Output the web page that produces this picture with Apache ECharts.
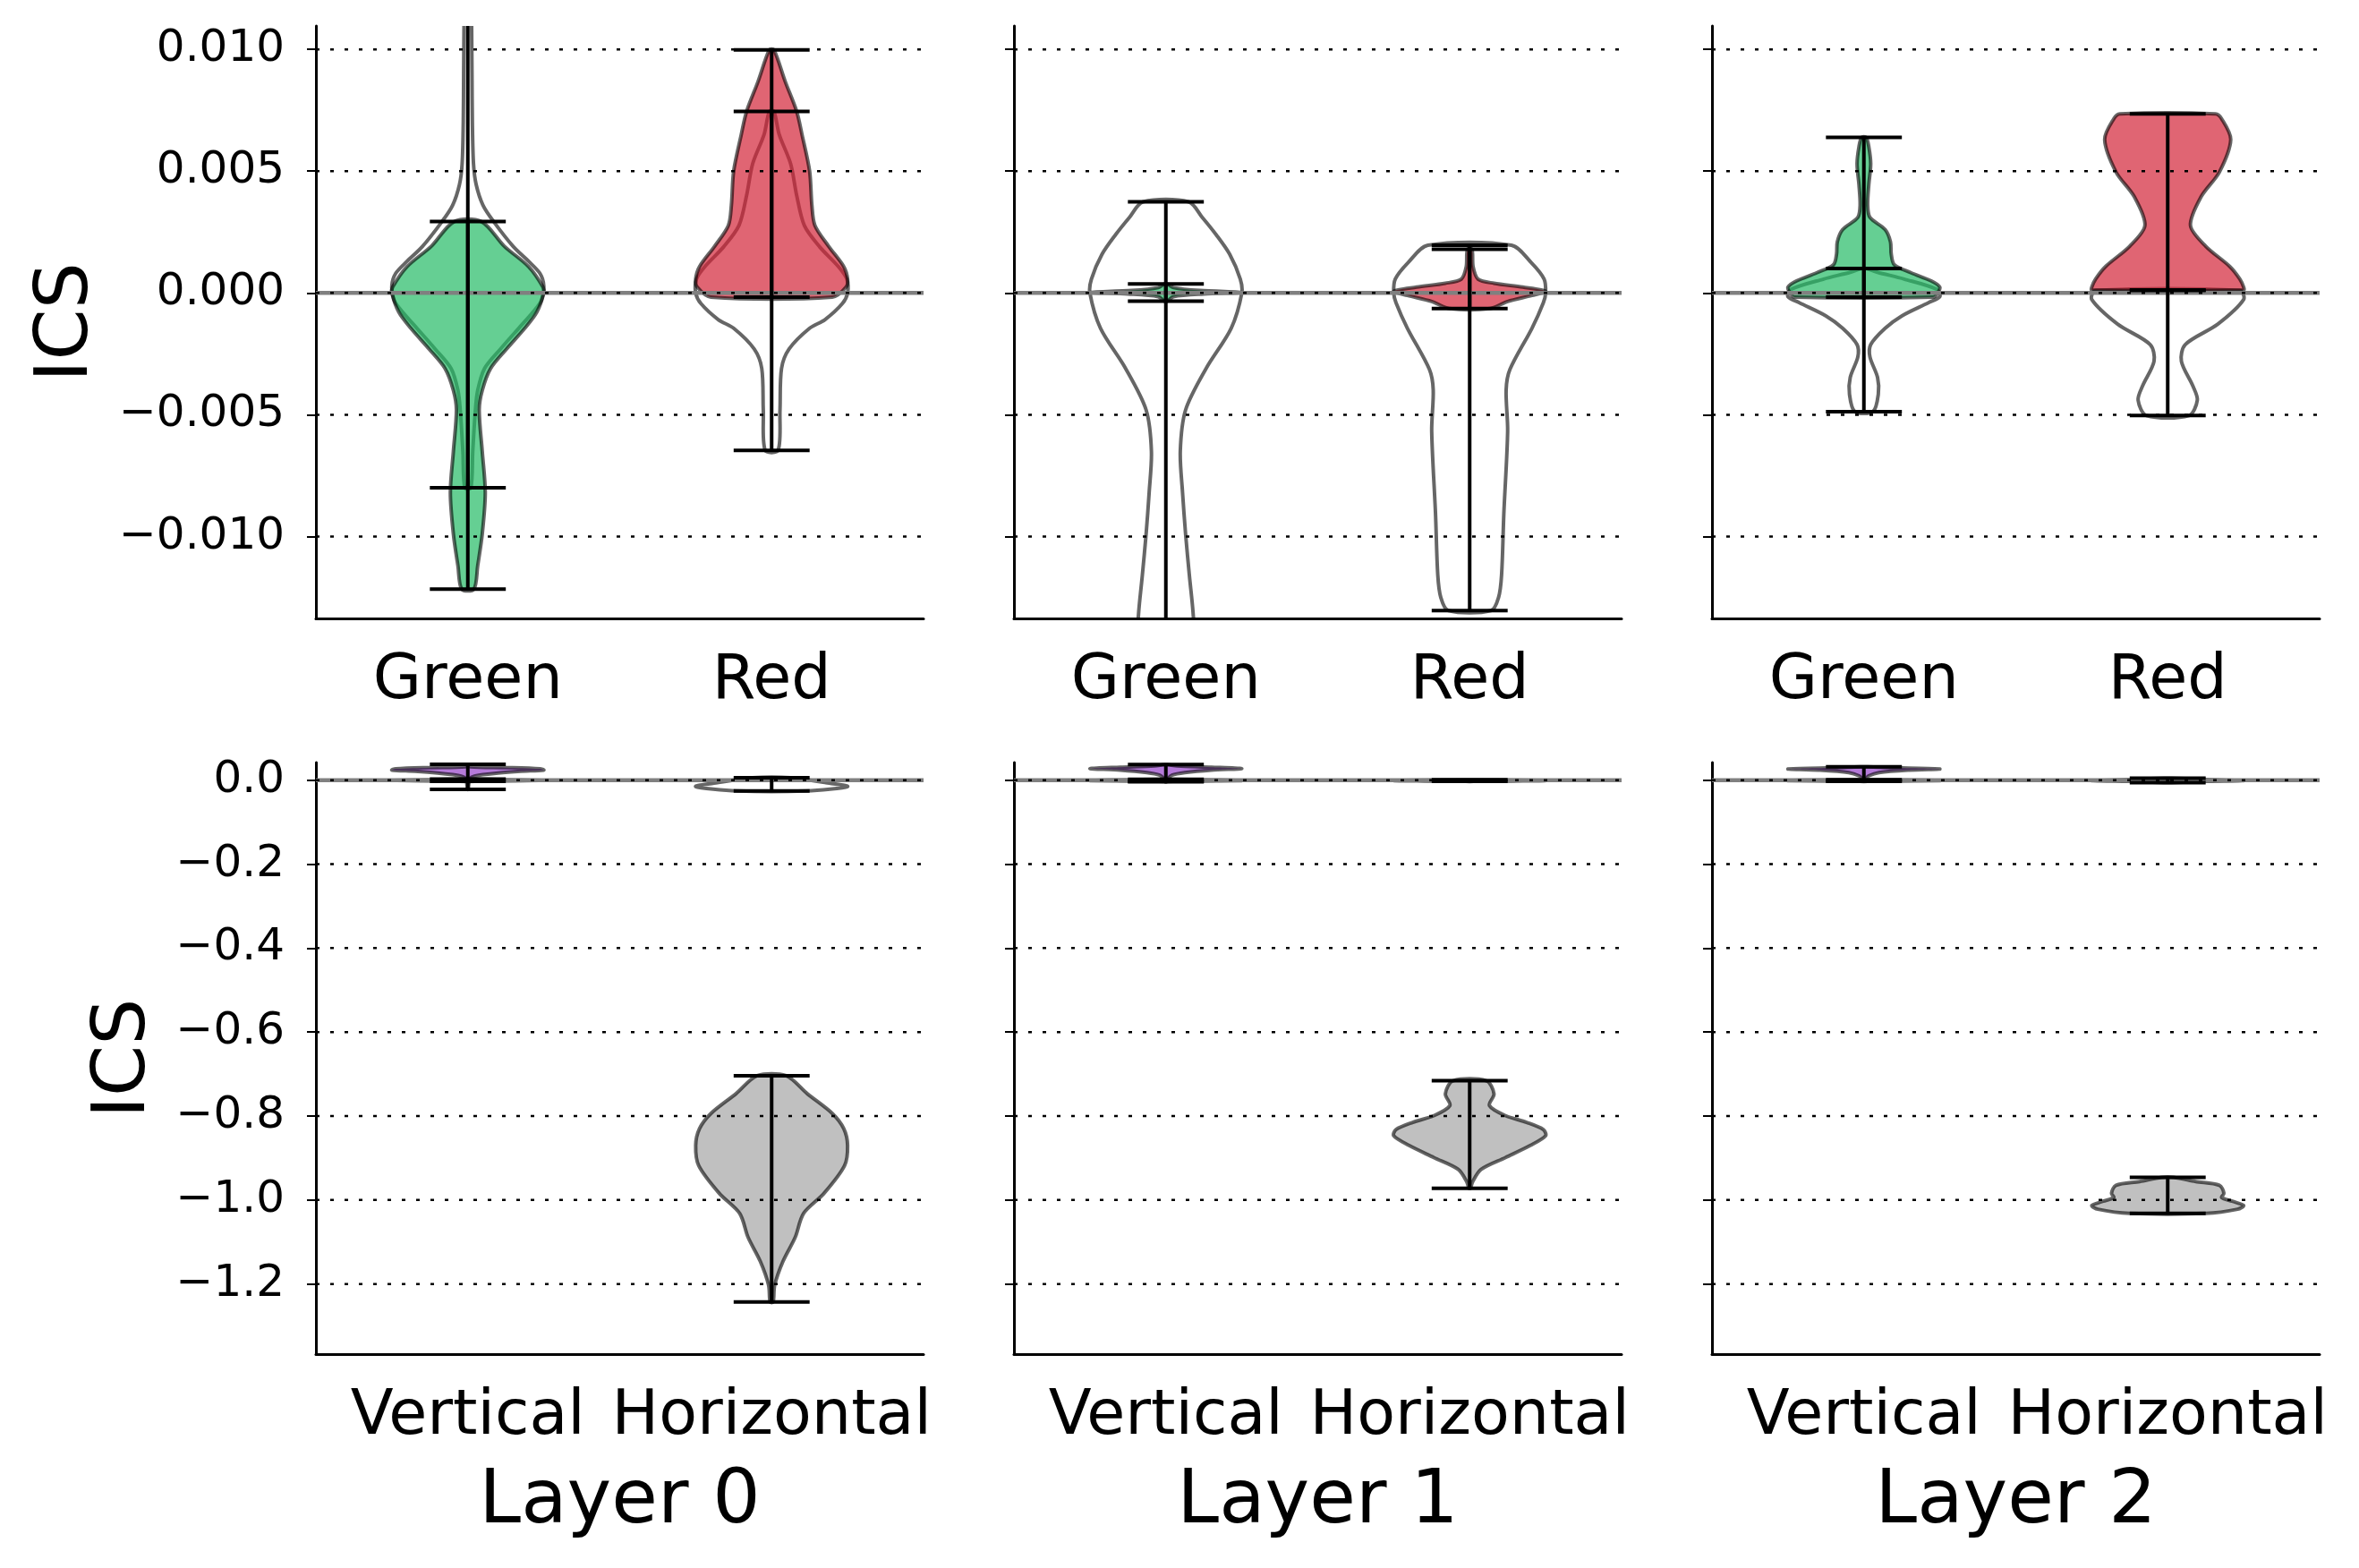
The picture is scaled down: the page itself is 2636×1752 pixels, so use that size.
<!DOCTYPE html>
<html>
<head>
<meta charset="utf-8">
<script src="https://cdn.jsdelivr.net/npm/echarts@6/dist/echarts.min.js"></script>
<style>
  html, body { margin: 0; padding: 0; background: #fff; }
  #chart { width: 2636px; height: 1752px; }
</style>
</head>
<body>
<div id="chart"></div>
<script>
const layerNames = ['Layer 0', 'Layer 1', 'Layer 2']
const colorCats = ['Green', 'Red']
const orientCats = ['Vertical', 'Horizontal']
const colorTicks = [-0.010, -0.005, 0.000, 0.005, 0.010]
const orientTicks = [-1.2, -1.0, -0.8, -0.6, -0.4, -0.2, 0.0]
const colorRange = [-0.01336, 0.01096]
const orientRange = [-1.367, 0.042]

// violin shapes: [ICS value, half width relative to the widest point]
// "Fill" = coloured violin, "Line" = unfilled violin drawn behind it
const greenFill0 = [[-0.01216, 0.08], [-0.0112, 0.13], [-0.0099, 0.19], [-0.0082, 0.23], [-0.0065, 0.19], [-0.0048, 0.15], [-0.0040, 0.19], [-0.0031, 0.30], [-0.0023, 0.51], [-0.00145, 0.75], [-0.00078, 0.91], [0.0, 1.0], [0.00024, 0.99], [0.00108, 0.80], [0.00192, 0.48], [0.00293, 0.18]]
const greenLine0 = [[-0.0080, 0.04], [-0.0065, 0.065], [-0.0048, 0.10], [-0.0040, 0.13], [-0.0031, 0.22], [-0.0023, 0.43], [-0.00145, 0.67], [-0.00078, 0.86], [-0.0003, 0.97], [0.0003, 1.0], [0.0008, 0.95], [0.0013, 0.80], [0.0019, 0.60], [0.00293, 0.34], [0.0036, 0.20], [0.00445, 0.11], [0.0053, 0.075], [0.0070, 0.06], [0.0090, 0.055], [0.0110, 0.05], [0.0125, 0.045]]
const redFill0 = [[-0.00017, 0.80], [0.00024, 0.98], [0.00057, 1.0], [0.00108, 0.95], [0.00192, 0.75], [0.00277, 0.57], [0.0036, 0.53], [0.0050, 0.50], [0.0065, 0.40], [0.00745, 0.33], [0.00867, 0.18], [0.00998, 0.03]]
const redLine0 = [[-0.00646, 0.085], [-0.0048, 0.11], [-0.0031, 0.13], [-0.0023, 0.23], [-0.00145, 0.5], [-0.0011, 0.7], [-0.00044, 0.93], [0.0, 1.0], [0.00057, 0.99], [0.00108, 0.88], [0.0019, 0.63], [0.00277, 0.43], [0.0040, 0.33], [0.0053, 0.25], [0.0065, 0.10], [0.00745, 0.03]]

const greenFill1 = [[-0.00034, 0.02], [-0.00015, 0.1], [-0.00004, 0.5], [0.00002, 1.0], [0.0001, 0.45], [0.00022, 0.1], [0.00037, 0.02]]
const greenLine1 = [[-0.016, 0.40], [-0.0132, 0.36], [-0.0116, 0.31], [-0.0099, 0.26], [-0.0082, 0.22], [-0.0065, 0.19], [-0.0048, 0.26], [-0.0031, 0.53], [-0.00145, 0.86], [0.0, 1.0], [0.00057, 0.98], [0.00159, 0.84], [0.0024, 0.66], [0.0031, 0.48], [0.00374, 0.30]]
const redFill1 = [[-0.00064, 0.27], [-0.00035, 0.5], [-0.0001, 0.82], [0.00007, 1.0], [0.00024, 0.70], [0.0004, 0.32], [0.00057, 0.11], [0.00108, 0.045], [0.00179, 0.03]]
const redLine1 = [[-0.01304, 0.28], [-0.0125, 0.38], [-0.01157, 0.42], [-0.00904, 0.45], [-0.00567, 0.50], [-0.00398, 0.48], [-0.00314, 0.53], [-0.00145, 0.82], [-0.0004, 0.97], [0.0, 1.0], [0.00057, 0.98], [0.00125, 0.81], [0.00196, 0.55]]

const greenFill2 = [[-0.00017, 0.91], [0.0, 0.97], [0.00024, 1.0], [0.00049, 0.89], [0.00083, 0.62], [0.00116, 0.40], [0.0016, 0.36], [0.0021, 0.35], [0.0026, 0.28], [0.0031, 0.08], [0.0036, 0.05], [0.00445, 0.065], [0.0053, 0.09], [0.006, 0.065], [0.00639, 0.03]]
const greenLine2 = [[-0.00487, 0.12], [-0.00415, 0.19], [-0.00347, 0.18], [-0.00263, 0.08], [-0.00212, 0.09], [-0.00145, 0.28], [-0.00094, 0.5], [-0.0004, 0.85], [-0.00015, 1.0], [0.00015, 0.96], [0.00057, 0.53], [0.00085, 0.18], [0.001, 0.03]]
const redFill2 = [[0.00012, 1.0], [0.00024, 1.0], [0.00057, 0.95], [0.00108, 0.82], [0.00192, 0.5], [0.00277, 0.30], [0.00395, 0.44], [0.00496, 0.68], [0.0063, 0.83], [0.00715, 0.71], [0.00735, 0.63]]
const redLine2 = [[-0.00503, 0.28], [-0.0044, 0.39], [-0.00381, 0.33], [-0.0028, 0.18], [-0.00212, 0.23], [-0.00128, 0.66], [-0.00027, 1.0], [0.0001, 0.95]]

const vertFill0 = [[-0.022, 0.005], [-0.005, 0.015], [0.004, 0.03], [0.009, 0.08], [0.013, 0.2], [0.017, 0.4], [0.021, 0.7], [0.024, 1.0], [0.027, 0.95], [0.030, 0.5], [0.032, 0.03], [0.0377, 0.01]]
const vertLine0 = [[-0.003, 0.1], [-0.0015, 0.6], [-0.0005, 1.0], [0.001, 0.5], [0.0025, 0.05]]
const horizFill0 = [[-1.243, 0.02], [-1.203, 0.04], [-1.146, 0.15], [-1.089, 0.31], [-1.032, 0.42], [-0.984, 0.69], [-0.918, 0.96], [-0.870, 1.0], [-0.830, 0.95], [-0.794, 0.80], [-0.747, 0.47], [-0.704, 0.19]]
const horizLine0 = [[-0.0257, 0.45], [-0.0152, 1.0], [-0.0057, 0.7], [0.0057, 0.25]]

const vertFill1 = [[-0.0038, 0.01], [0.004, 0.03], [0.012, 0.08], [0.018, 0.25], [0.024, 0.6], [0.0276, 1.0], [0.031, 0.6], [0.034, 0.15], [0.037, 0.02]]
const vertLine1 = [[-0.003, 0.1], [-0.001, 1.0], [0.0005, 0.6], [0.002, 0.05]]
const horizFill1 = [[-0.972, 0.01], [-0.956, 0.04], [-0.927, 0.15], [-0.899, 0.47], [-0.870, 0.80], [-0.847, 1.0], [-0.832, 0.97], [-0.815, 0.75], [-0.799, 0.47], [-0.775, 0.26], [-0.747, 0.32], [-0.716, 0.22]]
const horizLine1 = [[-0.003, 0.05], [-0.002, 0.6], [-0.001, 1.0], [0.0, 0.7], [0.001, 0.05]]

const vertFill2 = [[-0.001, 0.02], [0.004, 0.03], [0.01, 0.06], [0.018, 0.2], [0.024, 0.6], [0.0266, 1.0], [0.029, 0.5], [0.032, 0.05]]
const vertLine2 = [[-0.003, 0.05], [-0.001, 1.0], [0.0, 0.8], [0.001, 0.05]]
const horizFill2 = [[-1.032, 0.50], [-1.022, 0.92], [-1.013, 1.0], [-1.003, 0.85], [-0.994, 0.71], [-0.984, 0.74], [-0.965, 0.68], [-0.956, 0.37], [-0.946, 0.08]]
const horizLine2 = [[-0.0057, 0.05], [-0.003, 0.5], [-0.001, 1.0], [0.002, 0.4], [0.0048, 0.05]]

const FONT = 'DejaVu Sans'
const green = 'rgba(36,186,101,0.7)'
const red = 'rgba(211,35,55,0.7)'
const purple = 'rgba(149,65,201,0.7)'
const grey = 'rgba(165,165,165,0.7)'
const edge = 'rgba(0,0,0,0.6)'

const gridLeft = [353, 1133, 1913]
const gridTop = [29, 852]
const gridW = 679
const gridH = [662, 661]

const panels = [
  { cats: colorCats, ticks: colorTicks, range: colorRange, fills: [greenFill0, redFill0], lines: [greenLine0, redLine0], colors: [green, red], digits: 3 },
  { cats: colorCats, ticks: colorTicks, range: colorRange, fills: [greenFill1, redFill1], lines: [greenLine1, redLine1], colors: [green, red], digits: 3 },
  { cats: colorCats, ticks: colorTicks, range: colorRange, fills: [greenFill2, redFill2], lines: [greenLine2, redLine2], colors: [green, red], digits: 3 },
  { cats: orientCats, ticks: orientTicks, range: orientRange, fills: [vertFill0, horizFill0], lines: [vertLine0, horizLine0], colors: [purple, grey], digits: 1 },
  { cats: orientCats, ticks: orientTicks, range: orientRange, fills: [vertFill1, horizFill1], lines: [vertLine1, horizLine1], colors: [purple, grey], digits: 1 },
  { cats: orientCats, ticks: orientTicks, range: orientRange, fills: [vertFill2, horizFill2], lines: [vertLine2, horizLine2], colors: [purple, grey], digits: 1 }
]

const fmt = (digits) => (v) => v.toFixed(digits).replace('-', '\u2212')

// violin body from a profile, widest point = 0.25 category units
const violinItem = (profiles, colors) => (params, api) => {
  const cat = api.value(0)
  const prof = profiles[params.dataIndex]
  const band = api.size([1, 0], [cat, 0])[0]
  const cx = api.coord([cat, 0])[0]
  const right = prof.map(p => [cx + p[1] * band * 0.25, api.coord([cat, p[0]])[1]])
  const left = prof.slice().reverse().map(p => [cx - p[1] * band * 0.25, api.coord([cat, p[0]])[1]])
  return {
    type: 'polygon',
    shape: { points: right.concat(left), smooth: 0.3 },
    style: { fill: colors ? colors[params.dataIndex] : 'none', stroke: edge, lineWidth: 4 }
  }
}

// min / max caps and the bar between them
const barItem = (profiles) => (params, api) => {
  const cat = api.value(0)
  const prof = profiles[params.dataIndex]
  const band = api.size([1, 0], [cat, 0])[0]
  const lo = api.coord([cat, prof[0][0]])
  const hi = api.coord([cat, prof[prof.length - 1][0]])
  const cap = band * 0.125
  const style = { stroke: '#000', lineWidth: 4 }
  return {
    type: 'group',
    children: [
      { type: 'line', shape: { x1: lo[0], y1: lo[1], x2: hi[0], y2: hi[1] }, style },
      { type: 'line', shape: { x1: lo[0] - cap, y1: lo[1], x2: lo[0] + cap, y2: lo[1] }, style },
      { type: 'line', shape: { x1: hi[0] - cap, y1: hi[1], x2: hi[0] + cap, y2: hi[1] }, style }
    ]
  }
}

const hLineItem = (style) => (params, api) => {
  const y = api.coord([0, api.value(1)])[1]
  const cs = params.coordSys
  return { type: 'line', shape: { x1: cs.x, y1: y, x2: cs.x + cs.width, y2: y }, style }
}

const grids = [], xAxes = [], yAxes = [], series = []

panels.forEach((p, i) => {
  const row = i < 3 ? 0 : 1
  const col = i % 3
  grids.push({ left: gridLeft[col], top: gridTop[row], width: gridW, height: gridH[row] })

  xAxes.push({
    type: 'category', gridIndex: i, data: p.cats,
    axisLine: { onZero: false, lineStyle: { color: '#000', width: 3 } },
    axisTick: { alignWithLabel: true, length: 15, lineStyle: { color: '#000', width: 2 } },
    axisLabel: { interval: 0, fontSize: 70, fontFamily: FONT, color: '#000', margin: 36 },
    splitLine: { show: false },
    name: row === 1 ? layerNames[col] : '',
    nameLocation: 'middle', nameGap: 124,
    nameTextStyle: { fontSize: 84, fontFamily: FONT, color: '#000' }
  })

  yAxes.push({
    type: 'value', gridIndex: i, min: p.range[0], max: p.range[1],
    axisLine: { show: true, lineStyle: { color: '#000', width: 3 } },
    axisTick: { show: true, customValues: p.ticks, length: 10, lineStyle: { color: '#000', width: 2 } },
    axisLabel: { show: col === 0, customValues: p.ticks, formatter: fmt(p.digits), fontSize: 50, fontFamily: FONT, color: '#000', margin: 35 },
    splitLine: { show: false },
    name: col === 0 ? 'ICS' : '',
    nameLocation: 'middle', nameRotate: 90, nameGap: row === 0 ? 236 : 172,
    nameTextStyle: { fontSize: 82, fontFamily: FONT, color: '#000' }
  })

  const catData = p.fills.map((f, k) => [k])
  const common = { type: 'custom', xAxisIndex: i, yAxisIndex: i, silent: true, clip: true, encode: { x: 0 } }

  series.push({ ...common, z: 2, data: catData, renderItem: violinItem(p.lines, null) })
  series.push({ ...common, z: 3, data: catData, renderItem: violinItem(p.fills, p.colors) })
  series.push({ ...common, z: 4, data: [[0, 0]], encode: { x: 0, y: 1 }, renderItem: hLineItem({ stroke: '#808080', lineWidth: 4.5 }) })
  series.push({ ...common, z: 5, data: p.ticks.map(v => [0, v]), encode: { x: 0, y: 1 }, renderItem: hLineItem({ stroke: '#000', lineWidth: 2.5, lineDash: [4, 12] }) })
  series.push({ ...common, z: 6, data: p.lines.map((f, k) => [k]), renderItem: barItem(p.lines) })
  series.push({ ...common, z: 6, data: catData, renderItem: barItem(p.fills) })
})

const chart = echarts.init(document.getElementById('chart'))
chart.setOption({
  animation: false,
  backgroundColor: '#fff',
  grid: grids,
  xAxis: xAxes,
  yAxis: yAxes,
  series: series
})
</script>
</body>
</html>
